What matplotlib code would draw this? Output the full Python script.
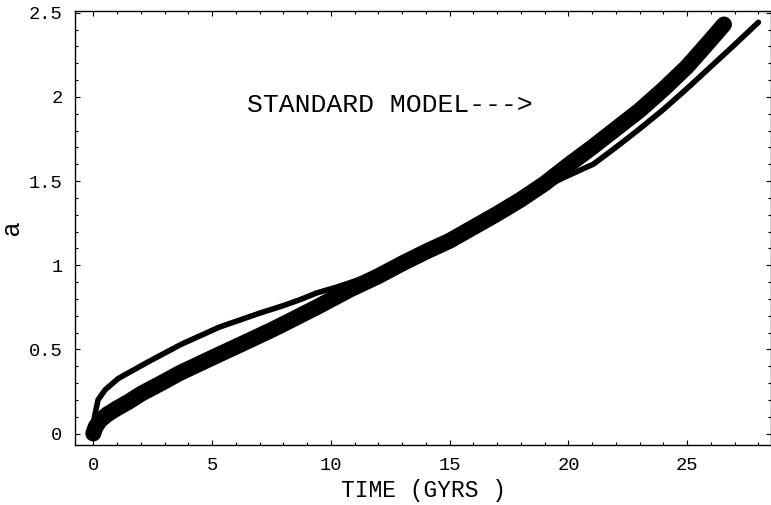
import numpy as np
import matplotlib
matplotlib.use("Agg")
import matplotlib.pyplot as plt
from matplotlib.ticker import MultipleLocator

# scale factor curve (thick) and the "standard model" curve (thin)
t_thick = [0, 0.1, 0.3, 0.6, 1, 1.5, 2, 3, 3.65, 5, 6.6, 7.5, 8, 9.4, 10.8,
           12, 13, 14, 15, 16, 17, 18, 19, 20, 21, 22, 23, 24, 25, 26, 26.55]
a_thick = [0, 0.04, 0.08, 0.115, 0.15, 0.19, 0.235, 0.31, 0.36, 0.45, 0.555,
           0.615, 0.65, 0.75, 0.855, 0.935, 1.01, 1.08, 1.145, 1.225, 1.305,
           1.39, 1.485, 1.595, 1.70, 1.81, 1.92, 2.045, 2.18, 2.34, 2.43]

t_thin = [0, 0.05, 0.2, 0.5, 1.05, 2.3, 3.7, 5.3, 7.0, 8.0, 8.7, 9.4, 10.25,
          11.2, 12, 13, 14, 15, 16, 17, 18, 19, 19.8, 21.05, 22, 23, 24, 25,
          26, 27, 28]
a_thin = [0, 0.1, 0.2, 0.26, 0.327, 0.425, 0.53, 0.632, 0.715, 0.76, 0.795,
          0.835, 0.87, 0.915, 0.93, 1.0, 1.075, 1.15, 1.22, 1.30, 1.38, 1.465,
          1.52, 1.60, 1.70, 1.81, 1.925, 2.05, 2.18, 2.31, 2.443]

W, H = 771, 505
fig = plt.figure(figsize=(W / 100, H / 100), dpi=100)
ax = fig.add_axes([75 / W, (H - 445) / H, (W - 75) / W, 434 / H])

ax.plot(t_thick, a_thick, color="black", lw=11.5, solid_capstyle="round",
        solid_joinstyle="round")
ax.plot(t_thin, a_thin, color="black", lw=4.0, solid_capstyle="round",
        solid_joinstyle="round")

ax.set_xlim(-0.77, 28.53)
ax.set_ylim(-0.068, 2.51)

ax.xaxis.set_major_locator(MultipleLocator(5))
ax.xaxis.set_minor_locator(MultipleLocator(1))
ax.yaxis.set_major_locator(MultipleLocator(0.5))
ax.yaxis.set_minor_locator(MultipleLocator(0.1))
ax.set_yticks([0, 0.5, 1, 1.5, 2, 2.5])
ax.set_yticklabels(["0", "0.5", "1", "1.5", "2", "2.5"])
ax.set_xticks([0, 5, 10, 15, 20, 25])

ax.tick_params(which="both", direction="in", top=True, right=True,
               width=0.8, color="black")
ax.tick_params(which="major", length=3.8, pad=9, labelsize=13.5)
ax.tick_params(which="minor", length=2.4)
for lab in ax.get_xticklabels() + ax.get_yticklabels():
    lab.set_family("Liberation Mono")
for s in ax.spines.values():
    s.set_linewidth(1.0)

ax.text(6.45, 1.95, "STANDARD MODEL--->", family="Liberation Mono",
        fontsize=19, ha="left", va="center")

fig.text(423 / W, 1 - 490 / H, "TIME (GYRS )", family="Liberation Mono",
         fontsize=16.5, ha="center", va="center")
fig.text(12 / W, 1 - 228 / H, "a", family="Liberation Sans", fontsize=18,
         rotation=90, ha="center", va="center")

fig.savefig("out.png", dpi=100)
